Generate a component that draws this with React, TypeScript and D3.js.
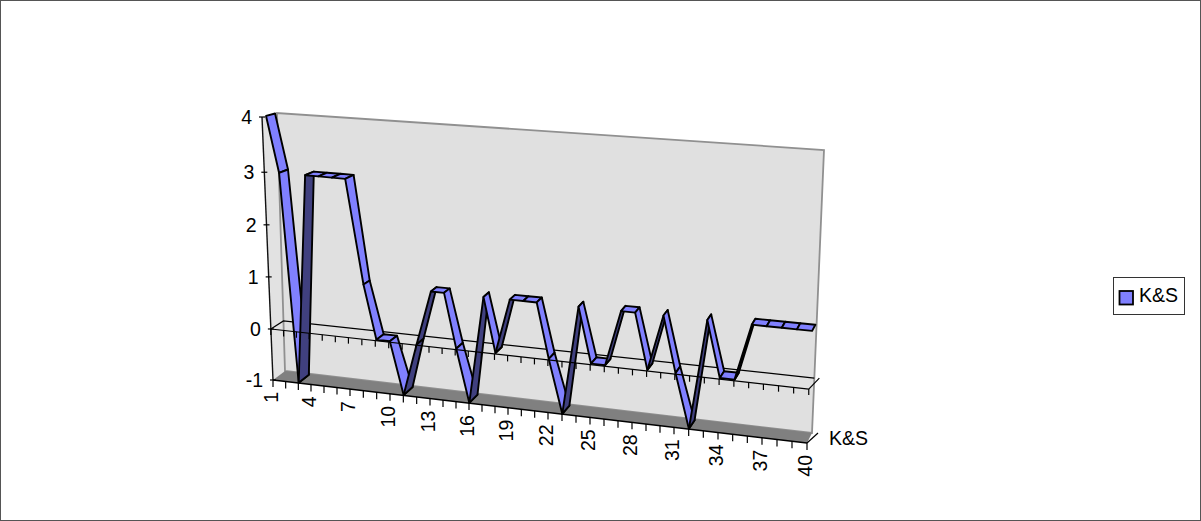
import React from "react";
import * as d3 from "d3";

// Series values, one per category 1..40
const values = [4, 3, -1, 3, 3, 3, 3, 1, 0, 0, -1, 0, 1, 1, 0, -1, 1, 0, 1, 1, 1, 0, -1, 1, 0, 0, 1, 1, 0, 1, 0, -1, 1, 0, 0, 1, 1, 1, 1, 1];
const categories = values.map((_, i) => i + 1);
const valueTicks = [-1, 0, 1, 2, 3, 4];
const seriesName = "K&S";

// Perspective box: corners of the plot at the lowest and highest value
type Pt = [number, number];
const frontLeft: [Pt, Pt] = [[273, 380], [262, 117]];
const frontRight: [Pt, Pt] = [[807, 443], [816, 165]];
const backLeft: [Pt, Pt] = [[285, 371], [277, 113]];
const backRight: [Pt, Pt] = [[812, 433], [824, 150]];

// Height along the box edge is slightly foreshortened towards the bottom
const heightScale = d3.scaleLinear().domain(valueTicks).range([0, 0.194, 0.392, 0.59, 0.79, 1]);
// Category spacing widens towards the right
const widthScale = d3.scaleLinear()
  .domain([0, 3, 6, 9, 12, 15, 18, 21, 24, 27, 30, 33, 36, 39])
  .range([273, 311, 350, 390, 430, 469, 508, 548, 590, 632, 674, 718, 762, 807].map((x) => (x - 273) / 534));

const mix = (a: Pt, b: Pt, k: number): Pt => [a[0] + (b[0] - a[0]) * k, a[1] + (b[1] - a[1]) * k];

function project(index: number, value: number, depth: number): Pt {
  const u = widthScale(index);
  const t = heightScale(value);
  const front = mix(mix(frontLeft[0], frontLeft[1], t), mix(frontRight[0], frontRight[1], t), u);
  const back = mix(mix(backLeft[0], backLeft[1], t), mix(backRight[0], backRight[1], t), u);
  return mix(front, back, depth);
}

const poly = (pts: Pt[]) => pts.map((p) => p.join(",")).join(" ");
const last = categories.length - 1;
// Depth extent of the ribbon inside the box, by value level
const ribbonFront = d3.scaleLinear().domain([-1, 0, 1, 3, 4]).range([0.03, 0.1, 0.26, 0.12, 0.27]);
const ribbonBack = d3.scaleLinear().domain([-1, 0, 1, 3, 4]).range([0.9, 0.75, 0.78, 0.75, 0.87]);
const labelSize = 19.5;
const font = "'Liberation Sans', Arial, sans-serif";

export default function App() {
  const floorPts = [project(0, -1, 0), project(last, -1, 0), project(last, -1, 1), project(0, -1, 1)];
  const wallPts = [project(0, -1, 1), project(last, -1, 1), project(last, 4, 1), project(0, 4, 1)];
  const sidePts = [project(0, -1, 0), project(0, -1, 1), project(0, 4, 1), project(0, 4, 0)];
  const zeroFrontL = project(0, 0, 0);
  const zeroFrontR = project(last, 0, 0);
  const zeroBackL = project(0, 0, 1);
  const zeroBackR = project(last, 0, 1);

  return (
    <svg width={1201} height={521} style={{ position: "absolute", left: 0, top: 0, fontFamily: font }}>
      <rect x={0.5} y={0.5} width={1200} height={520} fill="#fff" stroke="#555" strokeWidth={1} />

      {/* Walls and floor */}
      <polygon points={poly(sidePts)} fill="#e2e2e2" />
      <polygon points={poly(wallPts)} fill="#e0e0e0" stroke="#909090" strokeWidth={1.8} />
      <polygon points={poly(floorPts)} fill="#808080" />

      {/* Rear edge of the zero plane, hidden behind the ribbon */}
      <polyline points={poly([zeroFrontL, zeroBackL, zeroBackR])} fill="none" stroke="#000" strokeWidth={1.2} />
      <line x1={zeroFrontR[0]} y1={zeroFrontR[1]} x2={zeroBackR[0] + 5} y2={zeroBackR[1]} stroke="#000" strokeWidth={1.2} />

      {/* Value axis */}
      <line x1={frontLeft[0][0]} y1={frontLeft[0][1]} x2={frontLeft[1][0]} y2={frontLeft[1][1]} stroke="#111" strokeWidth={1.4} />
      {valueTicks.map((v) => {
        const [x, y] = project(0, v, 0);
        return (
          <g key={v}>
            <line x1={x - 3} y1={y} x2={x + 3} y2={y} stroke="#000" strokeWidth={1.2} />
            <text x={x - 10} y={y + 7} fontSize={labelSize} textAnchor="end" fill="#000">{v}</text>
          </g>
        );
      })}

      {/* Floor edge with category ticks and labels */}
      <line x1={floorPts[0][0]} y1={floorPts[0][1]} x2={floorPts[1][0]} y2={floorPts[1][1]} stroke="#000" strokeWidth={1.4} />
      {categories.map((c, i) => {
        const [x, y] = project(i, -1, 0);
        return (
          <g key={c}>
            <line x1={x} y1={y} x2={x} y2={y + 7} stroke="#000" strokeWidth={1.2} />
            {i % 3 === 0 && (
              <text transform={`translate(${x + 5},${y + 12}) rotate(-90)`} fontSize={labelSize} textAnchor="end" fill="#000">{c}</text>
            )}
          </g>
        );
      })}

      {/* Series axis tick and label */}
      <line x1={floorPts[1][0]} y1={floorPts[1][1]} x2={floorPts[2][0] + 6} y2={floorPts[2][1]} stroke="#000" strokeWidth={1.2} />
      <text x={829} y={445} fontSize={labelSize} fill="#000">{seriesName}</text>

      {/* Ribbon, one face per segment, left to right */}
      {values.slice(1).map((v, i) => {
        const prev = values[i];
        const face = v > prev ? "#40407f" : "#8080ff";
        const pts = [
          project(i, prev, ribbonFront(prev)),
          project(i + 1, v, ribbonFront(v)),
          project(i + 1, v, ribbonBack(v)),
          project(i, prev, ribbonBack(prev)),
        ];
        return <polygon key={i} points={poly(pts)} fill={face} stroke="#000" strokeWidth={1.9} strokeLinejoin="round" />;
      })}

      {/* Front edge of the zero plane with its ticks */}
      <line x1={zeroFrontL[0]} y1={zeroFrontL[1]} x2={zeroFrontR[0]} y2={zeroFrontR[1]} stroke="#000" strokeWidth={1.2} />
      {categories.map((c, i) => {
        const [x, y] = project(i, 0, 0);
        return <line key={c} x1={x} y1={y} x2={x} y2={y + 6} stroke="#000" strokeWidth={1.2} />;
      })}

      {/* Legend */}
      <rect x={1113.5} y={277.5} width={71} height={37} fill="#fff" stroke="#333" strokeWidth={1} />
      <rect x={1119.5} y={291} width={13.5} height={13.5} fill="#8080ff" stroke="#000" strokeWidth={1.8} />
      <text x={1139} y={302} fontSize={labelSize} fill="#000">{seriesName}</text>
    </svg>
  );
}
